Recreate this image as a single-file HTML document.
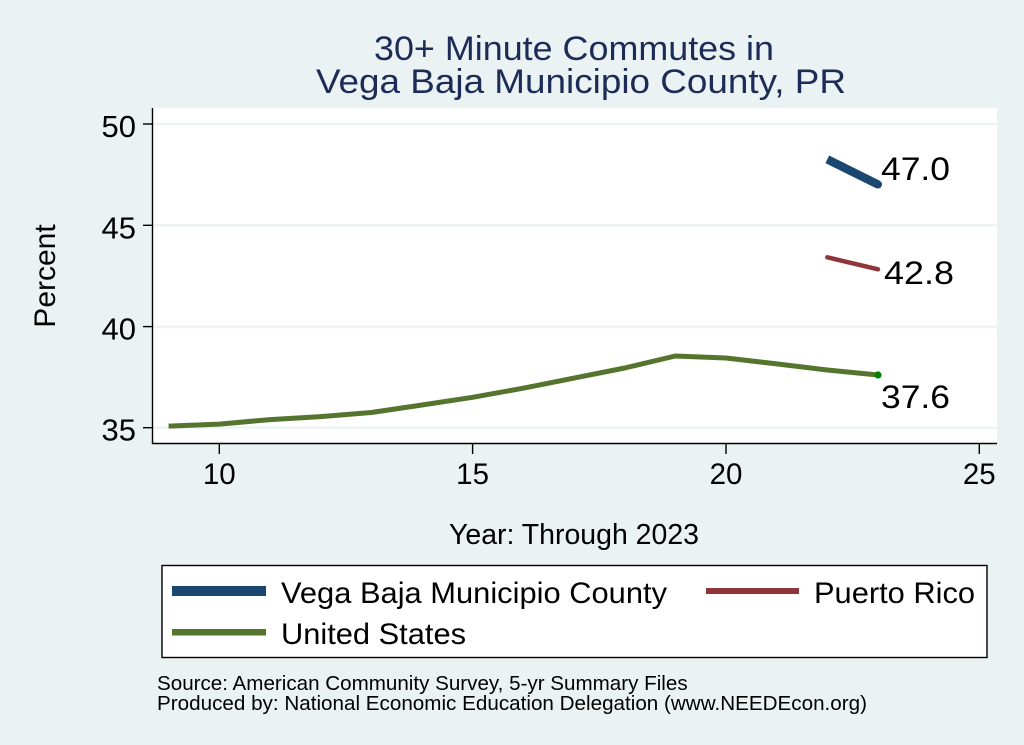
<!DOCTYPE html>
<html>
<head>
<meta charset="utf-8">
<style>
  html,body{margin:0;padding:0;background:#eaf2f3;}
  svg{display:block;}
  text{font-family:"Liberation Sans", Arial, Helvetica, sans-serif;}
</style>
</head>
<body>
<svg width="1024" height="745" viewBox="0 0 1024 745" xmlns="http://www.w3.org/2000/svg">
  <rect x="0" y="0" width="1024" height="745" fill="#eaf2f3"/>
  <!-- Title -->
  <text x="374" y="60" font-size="34" fill="#1d2c57" textLength="400" lengthAdjust="spacingAndGlyphs">30+ Minute Commutes in</text>
  <text x="316" y="93" font-size="34" fill="#1d2c57" textLength="530" lengthAdjust="spacingAndGlyphs">Vega Baja Municipio County, PR</text>

  <!-- Plot region -->
  <rect x="152" y="108" width="845" height="336" fill="#ffffff"/>
  <!-- gridlines -->
  <g stroke="#eaf2f3" stroke-width="2.2">
    <line x1="153" y1="124" x2="997" y2="124"/>
    <line x1="153" y1="225.3" x2="997" y2="225.3"/>
    <line x1="153" y1="326.6" x2="997" y2="326.6"/>
    <line x1="153" y1="427.7" x2="997" y2="427.7"/>
  </g>
  <!-- axes -->
  <g stroke="#000" stroke-width="1.4" fill="none">
    <line x1="152.5" y1="108" x2="152.5" y2="444"/>
    <line x1="152" y1="443.5" x2="997" y2="443.5"/>
    <!-- y ticks -->
    <line x1="143" y1="124" x2="152" y2="124"/>
    <line x1="143" y1="225.3" x2="152" y2="225.3"/>
    <line x1="143" y1="326.6" x2="152" y2="326.6"/>
    <line x1="143" y1="427.7" x2="152" y2="427.7"/>
    <!-- x ticks -->
    <line x1="219.3" y1="444" x2="219.3" y2="454"/>
    <line x1="472.6" y1="444" x2="472.6" y2="454"/>
    <line x1="726" y1="444" x2="726" y2="454"/>
    <line x1="979.3" y1="444" x2="979.3" y2="454"/>
  </g>
  <!-- y tick labels -->
  <g font-size="31" fill="#000" text-anchor="end">
    <text x="136" y="137">50</text>
    <text x="136" y="238.3">45</text>
    <text x="136" y="339.6">40</text>
    <text x="136" y="440.7">35</text>
  </g>
  <!-- x tick labels -->
  <g font-size="29.5" fill="#000" text-anchor="middle">
    <text x="219.3" y="484">10</text>
    <text x="472.6" y="484">15</text>
    <text x="726" y="484">20</text>
    <text x="979.3" y="484">25</text>
  </g>
  <!-- axis titles -->
  <text transform="translate(55,276) rotate(-90)" font-size="30" fill="#000" text-anchor="middle">Percent</text>
  <text x="449" y="544" font-size="28.5" fill="#000" textLength="250" lengthAdjust="spacingAndGlyphs">Year: Through 2023</text>

  <!-- series -->
  <polyline fill="none" stroke="#55752f" stroke-width="5" stroke-linejoin="round"
    points="168.6,426.1 219.3,424.1 270,419.6 320.6,416.6 371.3,412.5 422,405 472.6,397.3 523.3,388.2 574,378.1 624.7,368 675.3,356 726,358 776.7,363.9 827.3,370 878,375"/>
  <circle cx="878" cy="375" r="3.6" fill="#008000"/>
  <line x1="827.3" y1="257.3" x2="878" y2="269.3" stroke="#90353b" stroke-width="4.5" stroke-linecap="round"/>
  <line x1="827.3" y1="159.3" x2="878" y2="184.5" stroke="#1a476f" stroke-width="8.5" stroke-linecap="butt"/>
  <circle cx="878" cy="184.5" r="4" fill="#1a476f"/>

  <!-- value labels -->
  <g font-size="32" fill="#000">
    <text x="881" y="180" textLength="69" lengthAdjust="spacingAndGlyphs">47.0</text>
    <text x="884" y="284" textLength="70" lengthAdjust="spacingAndGlyphs">42.8</text>
    <text x="881" y="408" textLength="69" lengthAdjust="spacingAndGlyphs">37.6</text>
  </g>

  <!-- legend -->
  <rect x="162" y="565.5" width="825" height="92" fill="#ffffff" stroke="#000" stroke-width="1.4"/>
  <rect x="172" y="586" width="94" height="10" fill="#1a476f"/>
  <rect x="706" y="588" width="93" height="6" fill="#90353b"/>
  <rect x="172" y="629" width="94" height="6.5" fill="#55752f"/>
  <g font-size="29.5" fill="#000">
    <text x="281" y="603" textLength="386" lengthAdjust="spacingAndGlyphs">Vega Baja Municipio County</text>
    <text x="814" y="603" textLength="161" lengthAdjust="spacingAndGlyphs">Puerto Rico</text>
    <text x="281" y="644" textLength="185" lengthAdjust="spacingAndGlyphs">United States</text>
  </g>

  <!-- source notes -->
  <g font-size="20.6" fill="#000">
    <text x="157" y="690">Source: American Community Survey, 5-yr Summary Files</text>
    <text x="157" y="710" textLength="710" lengthAdjust="spacingAndGlyphs">Produced by: National Economic Education Delegation (www.NEEDEcon.org)</text>
  </g>
</svg>
</body>
</html>
